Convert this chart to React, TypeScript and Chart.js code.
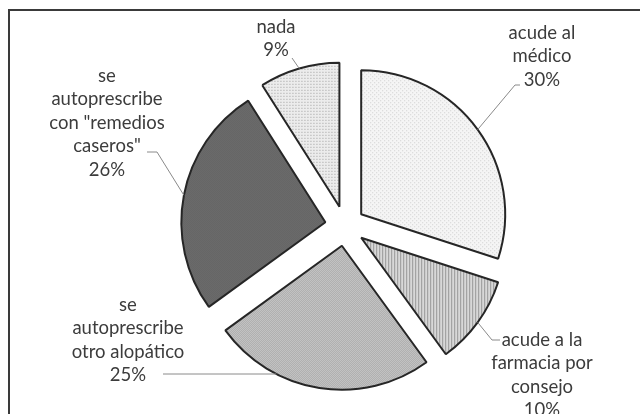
import React, { useEffect, useRef } from "react";
import { Chart, ArcElement, registerables } from "chart.js";

Chart.register(...registerables);

// ---- data ----
const categories: string[][] = [
  ["acude al", "médico"],
  ["acude a la", "farmacia por", "consejo"],
  ["se", "autoprescribe", "otro alopático"],
  ["se", "autoprescribe", 'con "remedios', 'caseros"'],
  ["nada"],
];
const values: number[] = [30, 10, 25, 26, 9];

// ---- layout (relative to pie centre) ----
const EXPLODE = 20;
const PIE_RADIUS = 144;
const LINE_H = 23.5;
type Layout = { tx: number; ty: number; pts: number[][]; hy?: number; hx?: number };
const labelLayout: Layout[] = [
  { tx: 197, ty: -193, pts: [[170, -141], [175, -141]] },
  { tx: 197, ty: 114, pts: [[147, 114], [155, 114]] },
  { tx: -217, ty: 79, pts: [], hy: 148, hx: -182 },
  { tx: -238, ty: -150, pts: [[-188, -74], [-198, -74]] },
  { tx: -69, ty: -199, pts: [[-53, -168]] },
];

// exploded slices: translate whole slice outward without enlarging it
const arcProto: any = ArcElement.prototype;
if (!arcProto.__exploded) {
  const orig = arcProto.draw;
  arcProto.draw = function (ctx: CanvasRenderingContext2D) {
    const mid = (this.startAngle + this.endAngle) / 2;
    ctx.save();
    ctx.translate(Math.cos(mid) * EXPLODE, Math.sin(mid) * EXPLODE);
    orig.call(this, ctx);
    ctx.restore();
  };
  arcProto.__exploded = true;
}

function makePattern(w: number, h: number, bg: string, dots: [number, number, string][]) {
  const c = document.createElement("canvas");
  c.width = w;
  c.height = h;
  const g = c.getContext("2d")!;
  g.fillStyle = bg;
  g.fillRect(0, 0, w, h);
  dots.forEach(([x, y, col]) => {
    g.fillStyle = col;
    g.fillRect(x, y, 1, 1);
  });
  return g.createPattern(c, "repeat")!;
}

const framePlugin = {
  id: "frame",
  beforeDraw(chart: any) {
    const ctx = chart.ctx;
    ctx.save();
    ctx.fillStyle = "#fff";
    ctx.fillRect(0, 0, chart.width, chart.height);
    ctx.fillStyle = "#3a3a3a";
    ctx.fillRect(8, 9, chart.width, 2);
    ctx.fillRect(8, 9, 2, chart.height);
    ctx.restore();
  },
};

const labelPlugin = {
  id: "pieLabels",
  afterDatasetsDraw(chart: any) {
    const ctx: CanvasRenderingContext2D = chart.ctx;
    const meta = chart.getDatasetMeta(0);
    const total = values.reduce((a, b) => a + b, 0);
    ctx.save();
    meta.data.forEach((arc: any, i: number) => {
      const { x, y, startAngle, endAngle, outerRadius } = arc.getProps(
        ["x", "y", "startAngle", "endAngle", "outerRadius"],
        true
      );
      const mid = (startAngle + endAngle) / 2;
      const sx = x + Math.cos(mid) * EXPLODE;
      const sy = y + Math.sin(mid) * EXPLODE;
      const L = labelLayout[i];
      ctx.strokeStyle = "#8a8a8a";
      ctx.lineWidth = 1;
      ctx.beginPath();
      if (L.hy !== undefined && L.hx !== undefined) {
        const y0 = y + L.hy;
        const d = Math.sqrt(Math.max(outerRadius * outerRadius - (y0 - sy) * (y0 - sy), 0));
        ctx.moveTo(x + L.hx, y0);
        ctx.lineTo(sx - d, y0);
      } else {
        ctx.moveTo(sx + Math.cos(mid) * outerRadius, sy + Math.sin(mid) * outerRadius);
        L.pts.forEach(([px, py]) => ctx.lineTo(x + px, y + py));
      }
      ctx.stroke();

      const lines = [...categories[i], Math.round((values[i] / total) * 100) + "%"];
      ctx.fillStyle = "#3c3c3c";
      ctx.font = "18.5px Lato, 'Open Sans', sans-serif";
      ctx.textAlign = "center";
      ctx.textBaseline = "middle";
      lines.forEach((t, k) => ctx.fillText(t, x + L.tx, y + L.ty + k * LINE_H));
    });
    ctx.restore();
  },
};

export default function App() {
  const ref = useRef<HTMLCanvasElement>(null);
  useEffect(() => {
    if (!ref.current) return;
    const patterns = [
      makePattern(4, 4, "#f5f5f5", [[0, 0, "#cfcfcf"], [2, 2, "#cfcfcf"]]),
      makePattern(3, 1, "#d8d8d8", [[0, 0, "#979797"]]),
      makePattern(2, 2, "#cdcdcd", [[0, 0, "#a6a6a6"], [1, 1, "#a6a6a6"]]),
      makePattern(2, 2, "#7a7a7a", [[0, 0, "#575757"], [1, 1, "#575757"]]),
      makePattern(3, 3, "#ececec", [[1, 1, "#a0a0a0"]]),
    ];
    const chart = new Chart(ref.current, {
      type: "pie",
      data: {
        labels: categories,
        datasets: [
          {
            data: values,
            backgroundColor: patterns as any,
            borderColor: "#262626",
            borderWidth: 2,
            radius: PIE_RADIUS,
          } as any,
        ],
      },
      options: {
        responsive: false,
        animation: false,
        events: [],
        layout: { padding: { left: 50, top: 38, right: 0, bottom: 0 } },
        plugins: {
          legend: { display: false },
          tooltip: { enabled: false },
        },
      },
      plugins: [framePlugin, labelPlugin],
    });
    return () => chart.destroy();
  }, []);
  return (
    <div style={{ position: "fixed", left: 0, top: 0, width: 640, height: 414 }}>
      <canvas ref={ref} width={640} height={414} style={{ display: "block" }} />
    </div>
  );
}
